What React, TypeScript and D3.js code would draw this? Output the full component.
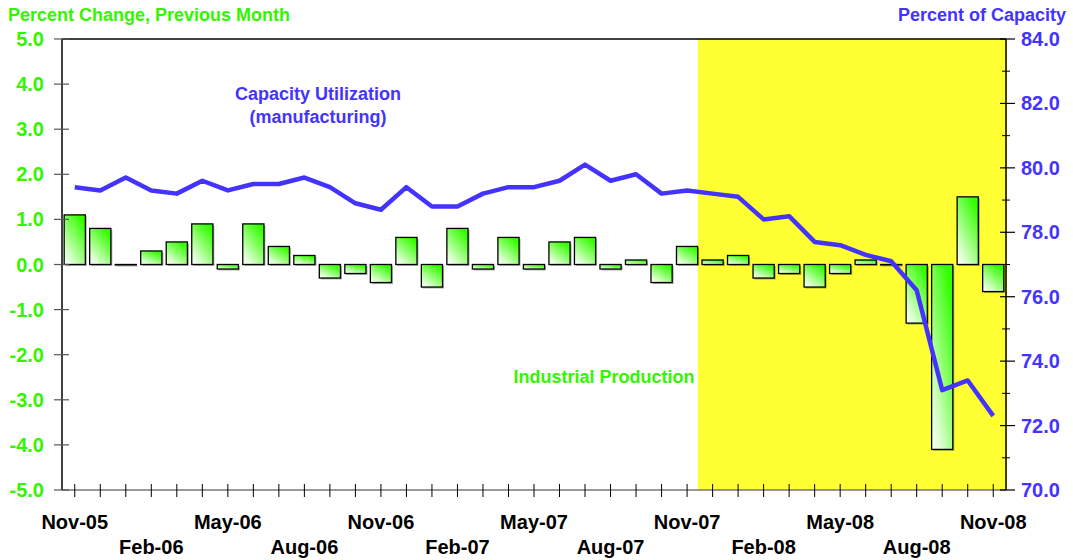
import React from "react";
import * as d3 from "d3";

const months = [
  "Nov-05","Dec-05","Jan-06","Feb-06","Mar-06","Apr-06","May-06","Jun-06","Jul-06","Aug-06","Sep-06","Oct-06",
  "Nov-06","Dec-06","Jan-07","Feb-07","Mar-07","Apr-07","May-07","Jun-07","Jul-07","Aug-07","Sep-07","Oct-07",
  "Nov-07","Dec-07","Jan-08","Feb-08","Mar-08","Apr-08","May-08","Jun-08","Jul-08","Aug-08","Sep-08","Oct-08","Nov-08",
];
const industrialProduction = [
  1.1, 0.8, 0.0, 0.3, 0.5, 0.9, -0.1, 0.9, 0.4, 0.2, -0.3, -0.2,
  -0.4, 0.6, -0.5, 0.8, -0.1, 0.6, -0.1, 0.5, 0.6, -0.1, 0.1, -0.4,
  0.4, 0.1, 0.2, -0.3, -0.2, -0.5, -0.2, 0.1, 0.0, -1.3, -4.1, 1.5, -0.6,
];
const capacityUtilization = [
  79.4, 79.3, 79.7, 79.3, 79.2, 79.6, 79.3, 79.5, 79.5, 79.7, 79.4, 78.9,
  78.7, 79.4, 78.8, 78.8, 79.2, 79.4, 79.4, 79.6, 80.1, 79.6, 79.8, 79.2,
  79.3, 79.2, 79.1, 78.4, 78.5, 77.7, 77.6, 77.3, 77.1, 76.2, 73.1, 73.4, 72.3,
];
const leftTicks = [5, 4, 3, 2, 1, 0, -1, -2, -3, -4, -5];
const rightTicks = [84, 82, 80, 78, 76, 74, 72, 70];
const recessionStart = "Dec-07";

const W = 1073, H = 560;
const L = 62, R = 1006, T = 39, B = 490;
const FONT = "'Liberation Sans', Arial, sans-serif";
const GREEN_TXT = "#33f500";
const BLUE = "#4433ff";

export default function App() {
  const x = d3.scaleBand<string>().domain(months).range([L, R]).paddingInner(0.17).paddingOuter(0.085);
  const step = x.step();
  const cx = (m: string) => (x(m) as number) + x.bandwidth() / 2;
  const yL = d3.scaleLinear().domain([-5, 5]).range([B, T]);
  const yR = d3.scaleLinear().domain([70, 84]).range([B, T]);
  const line = d3.line<number>().x((_, i) => cx(months[i])).y((v) => yR(v));
  const recX = (x(recessionStart) as number) - (step - x.bandwidth()) / 2 - 2;
  const minorRight = d3.range(71, 84, 2);

  return (
    <svg width={W} height={H} style={{ position: "absolute", left: 0, top: 0, background: "#fff" }} fontFamily={FONT}>
      <defs>
        <linearGradient id="barGrad" x1="0" y1="1" x2="0.7" y2="0">
          <stop offset="0" stopColor="#ffffff" />
          <stop offset="0.25" stopColor="#d6ffc8" />
          <stop offset="0.6" stopColor="#88ff66" />
          <stop offset="1" stopColor="#33ff00" />
        </linearGradient>
      </defs>
      <rect x={recX} y={T} width={R + 1 - recX} height={B - T} fill="#ffff33" />
      {/* bars */}
      {industrialProduction.map((v, i) => {
        const m = months[i];
        const y0 = yL(Math.max(0, v));
        const h = Math.abs(yL(v) - yL(0));
        return (
          <g key={m}>
            <rect x={(x(m) as number) + 1.5} y={y0 + 1.5} width={x.bandwidth()} height={Math.max(h, 0.5)} fill="#000" opacity={0.3} />
            <rect x={x(m)} y={y0} width={x.bandwidth()} height={Math.max(h, 0.5)} fill="url(#barGrad)" stroke="#000" strokeWidth={1.3} />
          </g>
        );
      })}
      {/* frame top */}
      <line x1={L} x2={R} y1={T} y2={T} stroke="#000" strokeWidth={1.3} />
      {/* x axis */}
      <line x1={L} x2={R} y1={B} y2={B} stroke="#777" strokeWidth={1.5} />
      {months.map((m) => (
        <line key={m} x1={cx(m)} x2={cx(m)} y1={B - 6} y2={B + 7} stroke="#000" strokeWidth={1} />
      ))}
      {/* left axis */}
      <line x1={L} x2={L} y1={T} y2={B} stroke="#000" strokeWidth={1.5} />
      {leftTicks.map((t) => (
        <g key={t}>
          <line x1={L - 8} x2={L + 7} y1={yL(t)} y2={yL(t)} stroke="#555" strokeWidth={1.2} />
          <text x={44} y={yL(t) + 7} textAnchor="end" fontSize={20} fontWeight="bold" fill={GREEN_TXT}>
            {t.toFixed(1)}
          </text>
        </g>
      ))}
      {/* right axis */}
      <line x1={R} x2={R} y1={T} y2={B} stroke="#000" strokeWidth={1.5} />
      {minorRight.map((t) => (
        <line key={t} x1={R - 4} x2={R + 4} y1={yR(t)} y2={yR(t)} stroke="#000" strokeWidth={1} />
      ))}
      {rightTicks.map((t) => (
        <g key={t}>
          <line x1={R - 6} x2={R + 9} y1={yR(t)} y2={yR(t)} stroke="#000" strokeWidth={1.2} />
          <text x={1021} y={yR(t) + 7} textAnchor="start" fontSize={20} fontWeight="bold" fill={BLUE}>
            {t.toFixed(1)}
          </text>
        </g>
      ))}
      {/* x labels */}
      {months.map((m, i) =>
        i % 3 === 0 ? (
          <text key={m} x={cx(m)} y={(i / 3) % 2 === 0 ? 529 : 554} textAnchor="middle" fontSize={20} fontWeight="bold" fill="#000">
            {m}
          </text>
        ) : null
      )}
      {/* line */}
      <path d={line(capacityUtilization) as string} fill="none" stroke={BLUE} strokeWidth={4.5} strokeLinejoin="round" />
      {/* titles */}
      <text x={8} y={21} fontSize={18} fontWeight="bold" fill={GREEN_TXT}>Percent Change, Previous Month</text>
      <text x={1066} y={21} textAnchor="end" fontSize={18} fontWeight="bold" fill={BLUE}>Percent of Capacity</text>
      <text x={318} y={100} textAnchor="middle" fontSize={18} fontWeight="bold" fill={BLUE}>Capacity Utilization</text>
      <text x={318} y={123} textAnchor="middle" fontSize={18} fontWeight="bold" fill={BLUE}>(manufacturing)</text>
      <text x={604} y={383} textAnchor="middle" fontSize={18} fontWeight="bold" fill={GREEN_TXT}>Industrial Production</text>
    </svg>
  );
}
